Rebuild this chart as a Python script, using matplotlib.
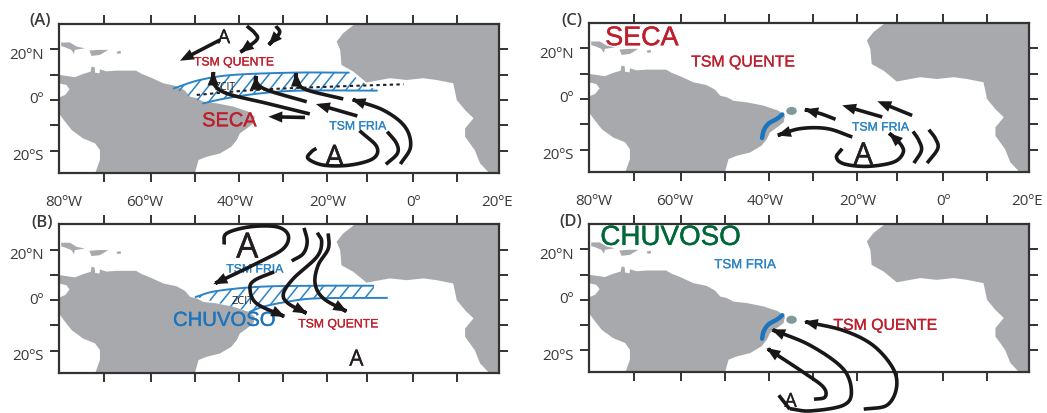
import numpy as np
import matplotlib
matplotlib.use("Agg")
import matplotlib.pyplot as plt
import matplotlib.patheffects as pe
from matplotlib.patches import Polygon, Ellipse, FancyArrowPatch
from matplotlib.path import Path

W, H = 1047, 413
GRAY = "#a7a9ac"; INK = "#231f20"; TXT = "#3a3a3a"
RED = "#be1e2d"; BLUE = "#1c75bc"; LBLUE = "#2b83c6"; GREEN = "#006838"
SANS = "Liberation Sans"; HUM = "Open Sans"

south_america = [(-80,9.9),(-78.3,9.5),(-76.4,9),(-74.5,10.3),(-72.8,11.2),(-72.6,13.2),(-71.9,12.9),(-71.8,10.8),
    (-70.8,10.5),(-70.7,12.1),(-69.2,11.3),(-66.9,11.6),(-62.5,11.6),(-61.2,10.3),(-59.3,9),(-56.3,6.6),(-53.3,5.5),
    (-51.4,3.7),(-50.2,1.3),(-48.7,0.7),(-47.2,-0.7),(-44.2,-1.3),(-40.4,-2.6),(-37,-4.6),(-35.5,-6.6),(-35.8,-9.2),
    (-37.3,-11.2),(-38.9,-13.2),(-39.6,-15.8),(-40.8,-18.4),(-43.4,-21.1),(-46.4,-22.4),(-48.3,-23.7),(-49.3,-30),
    (-72,-30),(-70.7,-23.7),(-70.7,-19.8),(-71.8,-17.1),(-74.5,-15.2),(-77.1,-11.9),(-78.6,-8.6),(-80,-5.3),(-80,1),
    (-78.6,2),(-77.6,4.2),(-78.3,5.9),(-80,6.6)]
africa = [(-12,31),(20,31),(20,-30),(17.6,-28.5),(15.7,-25),(14.5,-19.8),(12.3,-14.5),(12.3,-11.2),(14.2,-7.2),(12.3,-4),
    (10.4,0),(9.6,6.6),(5.8,7.9),(2.8,8.6),(-1,7.9),(-4.8,8.6),(-10.1,6.9),(-13.1,11.2),(-15.8,13.8),(-16.1,19.8),
    (-16.9,23.1),(-15.4,26.4)]
cuba = [(-79.5,22.7),(-77.5,22.7),(-76,21.1),(-74.1,20.4),(-76.4,19.8),(-76.6,18.2),(-77.2,19.8),(-78.6,20.8),(-79.5,21.3)]
hispaniola = [(-73.1,19.5),(-71.1,19.8),(-68.8,19.8),(-70.7,17.8),(-72.6,17.4)]
puerto_rico = [(-66.9,19.1),(-66,19.4),(-65.9,18.4),(-66.7,18.2)]
land = [south_america, africa, cuba, hispaniola, puerto_rico]

lon_ticks = [-69.8,-59.1,-49.1,-39.1,-29.1,-19.1,-10,0.45,10.45]
lat_ticks = [20,10,0,-10,-20]
lon_labels = [("80ºW",-79),("60ºW",-60.5),("40ºW",-40),("20ºW",-19),("0º",0.5),("20ºE",19.5)]
lat_labels = [("20ºN",20),("0º",0),("20ºS",-20)]

itcz_a_top = [(-53.9,4.6),(-48,7.9),(-40.4,9.9),(-26.7,10.8),(-14.2,10.8)]
itcz_a_bot = [(-47.2,-1.3),(-41.9,0.7),(-34.3,2.6),(-25.2,3.7),(-7.8,3.7)]
itcz_a_end = [(-10.5,6.6)]
itcz_b_top = [(-48.9,1.3),(-44.2,3.6),(-34.3,5.3),(-21.4,5.7),(-8.6,5.7)]
itcz_b_bot = [(-36.6,-4.6),(-33.6,-2.6),(-28.3,-0.7),(-21.4,0.7),(-5.5,0.9)]
itcz_b_end = [(-7.5,1)]
zcit_dots = [(-48.7,2),(-35.1,4),(-17.7,5.3),(-1.7,6.2)]
coast_jet = [(-36.1,-6.1),(-37.3,-7.8),(-39.2,-9.7),(-40.3,-12.4),(-40.7,-15.4)]

flows_a = [([(-43.4,23.7),(-52.5,15.5)],1),
    ([(-37.3,29.2),(-35.5,26.4),(-35.1,23.7),(-38.9,18.7)],1),
    ([(-30.7,29.2),(-29.9,26.4),(-32.4,21.6)],1),
    ([(-23,-5.5),(-32.8,-1.3),(-41.9,2.6),(-44.9,6.6),(-44.9,11.2)],1),
    ([(-23.7,-0.7),(-32.8,4),(-35.2,7.2),(-35.2,9.5)],1),
    ([(-15.4,0.4),(-23.7,4),(-26,7.2),(-26.1,10.8)],1),
    ([(-24.1,-6.9),(-32.4,-6.6)],1),
    ([(-12.2,-6.3),(-21.6,-1.6)],1),
    ([(-2.4,-25.3),(-0.1,-18.4),(-1.4,-10.5),(-6.3,-4),(-13.5,0.3)],1),
    ([(-5.7,-25.4),(-3.1,-21.1),(-3.3,-17.1),(-5.4,-12.5)],0),
    ([(-11.7,-12.1),(-7.8,-18.4),(-8.6,-23.1),(-13.9,-25.7),(-19.9,-25.7),(-23.4,-23.1),(-22.6,-20.4),(-21.5,-19.1)],0)]
flows_b = [([(-42.5,22),(-41.9,26.4),(-36.6,29),(-30.5,29),(-27.9,25.7),(-29,20.4),(-34.3,15.2),(-44.9,6.3)],1),
    ([(-24.3,28.6),(-23.6,23.1),(-24.5,18.4),(-27.1,15.5)],0),
    ([(-21.3,26.7),(-20.3,23.1),(-21.4,17.1),(-26.7,8.6),(-29,2.6),(-27.9,-1.3),(-23.6,-5.3)],1),
    ([(-18.8,26.4),(-18.8,20.4),(-21.1,13.8),(-21.8,6.6),(-19.9,0.7),(-14.5,-4.6)],1),
    ([(-31.1,11.2),(-35.5,7.9),(-36.6,4.6),(-35.1,-1.3),(-28.6,-6.6)],1)]
flows_c = [([(-24,-8),(-27.4,-5.8),(-31.1,-4.1)],1),
    ([(-13.4,-7.1),(-22.5,-2.5)],1),
    ([(-6.6,-6.5),(-14.5,-0.9)],1),
    ([(-20.2,-15),(-25.9,-11.7),(-32,-11.7),(-37.3,-14.4)],1),
    ([(-22.5,-19.6),(-23.8,-22.9),(-22.1,-25.6),(-16.8,-26.6),(-10.8,-24.9),(-8.6,-20.9),(-9.6,-17),(-11.9,-13.4)],1),
    ([(-6.2,-25.3),(-4.5,-20.3),(-5.1,-16.3),(-6.4,-12.8)],0),
    ([(-3.2,-25.3),(-0.8,-19.6),(-1.3,-15.7),(-2.8,-12.1)],0)]
flows_d = [([(-28.9,-39.4),(-26.4,-38.5),(-26.8,-34.5),(-31.4,-28.6),(-39.7,-19.1)],1),
    ([(-34.4,-43.1),(-29.8,-44),(-22.3,-41.8),(-20.4,-36.5),(-22.3,-27.3),(-29.8,-18),(-38.6,-11.7)],1),
    ([(-17.6,-43.3),(-12.4,-41.8),(-10.2,-35.2),(-10.9,-27.3),(-15.5,-18),(-22.3,-12.1),(-31.2,-8.6)],1),
    ([(-36.9,-37.8),(-34.4,-43.3)],0)]

# text, lon, lat, size, colour, family
labels_a = [("TSM QUENTE",-40.2,14.8,8.8,RED,SANS),("SECA",-41.3,-8.2,14.4,RED,SANS),("TSM FRIA",-12.1,-10.5,8.8,LBLUE,SANS),
    ("ZCIT",-42.3,5,7.5,INK,HUM),("A",-42.5,24.4,14,INK,HUM),("A",-17.4,-23.2,22,INK,HUM)]
labels_b = [("TSM FRIA",-35.5,12.1,8.8,LBLUE,SANS),("TSM QUENTE",-16.5,-9.6,8.8,RED,SANS),("CHUVOSO",-42.5,-8,14.6,BLUE,SANS),
    ("ZCIT",-38.3,-0.7,8,INK,HUM),("A",-37.2,20.4,25,INK,HUM),("A",-12.4,-23.7,16,INK,HUM)]
labels_c = [("SECA",-68,24,19.4,RED,SANS),("TSM QUENTE",-45,14.6,11.4,RED,SANS),("TSM FRIA",-13.8,-11.3,8.8,LBLUE,SANS),
    ("A",-17.7,-22.6,22,INK,HUM)]
labels_d = [("CHUVOSO",-61.5,24.5,20,GREEN,SANS),("TSM FRIA",-44.5,13.7,9.5,LBLUE,SANS),("TSM QUENTE",-12.7,-10.1,11.4,RED,SANS),
    ("A",-34.2,-40.4,14,INK,HUM)]

boxes = {"A":(59,499,24,172.7),"B":(59,499,224.3,372.7),"C":(589,1029.3,23,171.7),"D":(589,1029.3,224,372.3)}
panel_xy = {"A":(40,21),"B":(42,223),"C":(572,21),"D":(571,222)}

fig = plt.figure(figsize=(W/100,H/100),dpi=100,facecolor="white")

def smooth(pts,n=24):
    p = np.array(pts,float)
    if len(p)<3: return p
    q = np.vstack([2*p[0]-p[1],p,2*p[-1]-p[-2]])
    out=[]
    for i in range(1,len(q)-2):
        t=np.linspace(0,1,n,endpoint=False)[:,None]
        a,b,c,d=q[i-1],q[i],q[i+1],q[i+2]
        out.append(.5*(2*b+(c-a)*t+(2*a-5*b+4*c-d)*t**2+(3*b-a-3*c+d)*t**3))
    return np.vstack(out+[p[-1:]])

def flow(ax,pts,head):
    v=smooth(pts)
    style="-|>,head_length=2.6,head_width=1.05" if head else "-"
    a=FancyArrowPatch(path=Path(v),arrowstyle=style,mutation_scale=2.0,lw=2.6,color="#1a1718",
                      shrinkA=0,shrinkB=0,zorder=6,joinstyle="miter",capstyle="butt")
    ax.add_patch(a); a.set_clip_on(False)

def itcz(ax,top,bot,closing):
    poly=Polygon(list(top)+list(closing)+list(bot[::-1]),closed=True,fc="none",ec="none",zorder=3)
    ax.add_patch(poly)
    for x0 in np.arange(-60,0,2.9):
        l,=ax.plot([x0,x0+8.3],[-6,12],color=LBLUE,lw=1.1,zorder=3)
        l.set_clip_path(poly)
    for c in (top,bot):
        v=smooth(c)
        ax.plot(v[:,0],v[:,1],color=LBLUE,lw=1.4,zorder=3)

def panel(key,labels,flows):
    x0,x1,y0,y1=boxes[key]
    ax=fig.add_axes([x0/W,1-y1/H,(x1-x0)/W,(y1-y0)/H])
    ax.set_xlim(-80,20); ax.set_ylim(-28.7,30)
    for s in land:
        ax.add_patch(Polygon(s,closed=True,fc=GRAY,ec="none",zorder=1))
    ax.set_xticks(lon_ticks); ax.set_yticks(lat_ticks)
    ax.tick_params(top=True,right=True,labelbottom=False,labelleft=False,length=6.5,width=1.4,color="#333333")
    for s in ax.spines.values():
        s.set_linewidth(1.6); s.set_color("#333333"); s.set_zorder(5)
    for lab,lat in lat_labels:
        ax.annotate(lab,xy=(-80,lat),xytext=(-15,-6 if lat else 0),textcoords="offset pixels",ha="right",va="center",
                    fontsize=11,color=TXT,family=HUM)
    if key in "AC":
        for lab,lon in lon_labels:
            ax.annotate(lab,xy=(lon,-28.7),xytext=(0,-30),textcoords="offset pixels",ha="center",va="center",
                        fontsize=11,color=TXT,family=HUM)
    for t,lo,la,fs,c,fam in labels:
        tx=ax.text(lo,la,t,fontsize=fs,color=c,family=fam,ha="center",va="center",zorder=5,clip_on=False)
        if fs>8:
            tx.set_path_effects([pe.withStroke(linewidth=0.06+fs*0.012,foreground=c)])
    for pts,h in flows:
        flow(ax,pts,h)
    px,py=panel_xy[key]
    fig.text(px/W,1-py/H,f"({key})",fontsize=12,color=TXT,family=HUM,weight="semibold",ha="center",va="center")
    return ax

ax=panel("A",labels_a,flows_a)
itcz(ax,itcz_a_top,itcz_a_bot,itcz_a_end)
d=smooth(zcit_dots); ax.plot(d[:,0],d[:,1],color=INK,lw=1.5,ls=(0,(1.6,1.6)),zorder=4)
ax=panel("B",labels_b,flows_b)
itcz(ax,itcz_b_top,itcz_b_bot,itcz_b_end)
for key,labs,fl,elat in (("C",labels_c,flows_c,-4.7),("D",labels_d,flows_d,-7.9)):
    ax=panel(key,labs,fl)
    j=smooth(coast_jet); ax.plot(j[:,0],j[:,1],color=BLUE,lw=3.2,zorder=4,solid_capstyle="round")
    ax.add_patch(Ellipse((-34,elat),2.4,3.2,fc="#7f9a9a",ec="none",zorder=4))
fig.savefig("out.png",dpi=100)
